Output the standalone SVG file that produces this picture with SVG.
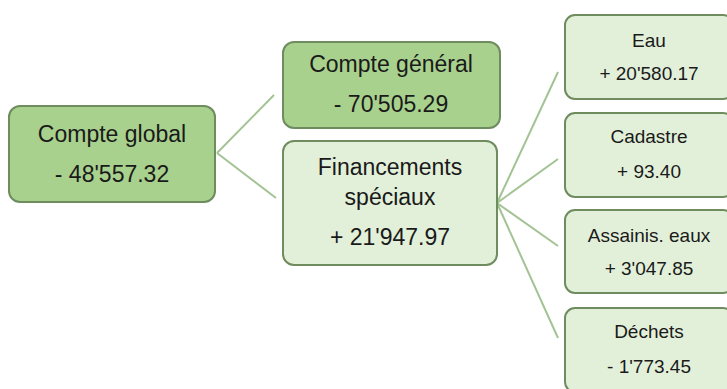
<svg xmlns="http://www.w3.org/2000/svg" width="727" height="389" viewBox="0 0 727 389">
<style>
.box{stroke:#6f8c5f;stroke-width:2}
.dark{fill:#a9d18e}
.light{fill:#e2f0d9}
.t{font-family:"Liberation Sans",Arial,sans-serif;fill:#1a1a1a;text-anchor:middle}
.big{font-size:23px}
.small{font-size:19px}
.conn{stroke:#a3c394;stroke-width:2;fill:none}
</style>
<rect width="727" height="389" fill="#ffffff"/>
<g id="connectors">
<line class="conn" x1="217" y1="153" x2="274" y2="95"/>
<line class="conn" x1="217" y1="153" x2="276" y2="198"/>
<line class="conn" x1="497" y1="203" x2="558" y2="72"/>
<line class="conn" x1="497" y1="203" x2="558" y2="159"/>
<line class="conn" x1="497" y1="203" x2="558" y2="246"/>
<line class="conn" x1="497" y1="203" x2="558" y2="338"/>
</g>
<g id="compte-global">
<rect class="box dark" x="9" y="106" width="206" height="96" rx="11"/>
<text class="t big" x="112" y="142">Compte global</text>
<text class="t big" x="112" y="182">- 48'557.32</text>
</g>
<g id="compte-general">
<rect class="box dark" x="283" y="42" width="217" height="86" rx="11"/>
<text class="t big" x="391" y="72">Compte général</text>
<text class="t big" x="391" y="112">- 70'505.29</text>
</g>
<g id="financements">
<rect class="box light" x="283" y="141" width="214" height="124" rx="11"/>
<text class="t big" x="390" y="175">Financements</text>
<text class="t big" x="390" y="205">spéciaux</text>
<text class="t big" x="390" y="245">+ 21'947.97</text>
</g>
<g id="eau">
<rect class="box light" x="565" y="15" width="168" height="84" rx="10"/>
<text class="t small" x="649" y="47">Eau</text>
<text class="t small" x="649" y="80">+ 20'580.17</text>
</g>
<g id="cadastre">
<rect class="box light" x="565" y="113" width="168" height="84" rx="10"/>
<text class="t small" x="649" y="143">Cadastre</text>
<text class="t small" x="649" y="178">+ 93.40</text>
</g>
<g id="assainis">
<rect class="box light" x="565" y="210" width="168" height="83" rx="10"/>
<text class="t small" x="649" y="242">Assainis. eaux</text>
<text class="t small" x="649" y="275">+ 3'047.85</text>
</g>
<g id="dechets">
<rect class="box light" x="565" y="308" width="168" height="84" rx="10"/>
<text class="t small" x="649" y="338">Déchets</text>
<text class="t small" x="649" y="373">- 1'773.45</text>
</g>
</svg>
